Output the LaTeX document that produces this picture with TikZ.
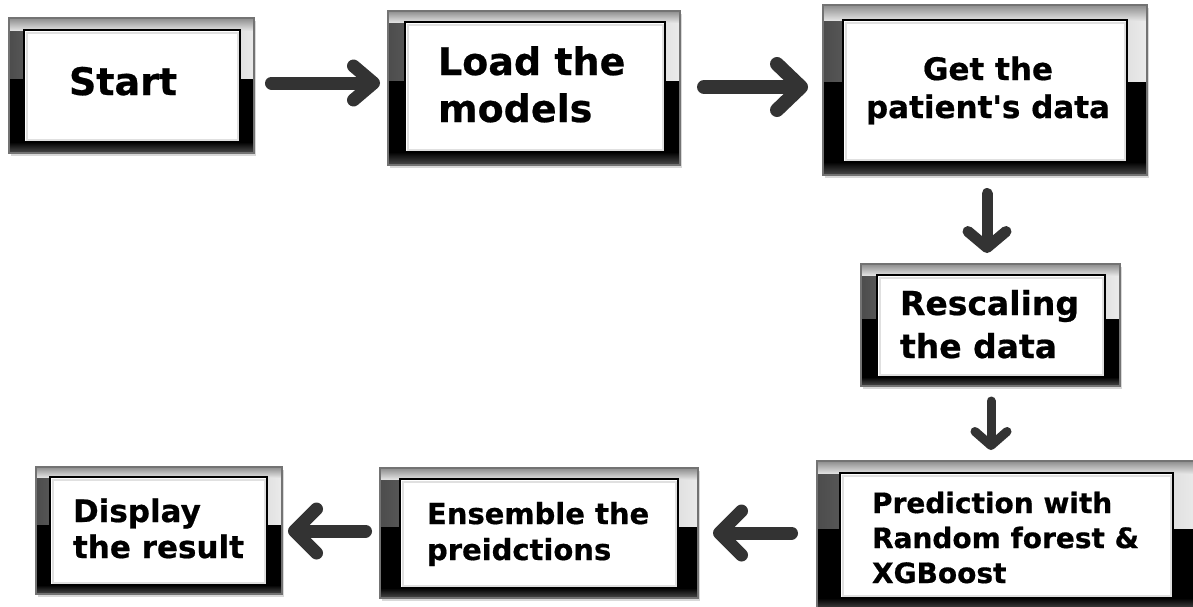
\documentclass[tikz,border=0pt]{standalone}
\usepackage{fontspec}
\setmainfont{DejaVu Sans}[Ligatures=TeXOff, BoldFeatures={FakeBold=0.6}]
\usetikzlibrary{arrows.meta,calc}
\definecolor{arrowgray}{HTML}{333333}
\tikzset{
  framenode/.style={rectangle, fill=black, inner sep=0pt, outer sep=0pt},
  txt/.style={inner sep=0pt, outer sep=0pt, text=black, font=\bfseries},
  conn/.style={draw=arrowgray, line cap=round, line join=round},
}
\newcommand\gframe[9]{%
  \fill[black!25,opacity=0.6] (#2+2,#3+3) rectangle (#4+2,#5+3);
  \node[framenode, minimum width={(#4-#2)*1pt}, minimum height={(#5-#3)*1pt}] (#1) at ({(#2+#4)/2},{(#3+#5)/2}) {};
  \shade[left color=black!70, right color=black!8] (#2,#3) rectangle (#4,{#3+0.45*(#5-#3)});
  \shade[top color=black!45, bottom color=black!12] (#2,#3) rectangle (#4,#7);
  \shade[top color=black, bottom color=black!70] (#2,#9) rectangle (#4,#5);
  \draw[black!55, line width=1.2pt] (#1.north west) rectangle (#1.south east);
  \filldraw[fill=white, draw=black, line width=2.5pt] (#6,#7) rectangle (#8,#9);
  \draw[black!12, line width=2pt] (#6+2.5,#7+2.5) rectangle (#8-2.5,#9-2.5);
}
\begin{document}
\begin{tikzpicture}[x=1pt,y=-1pt]
\useasboundingbox (0,0) rectangle (1193,606);
\fill[white] (0,0) rectangle (1193,606);

\gframe{b1}{9}{18}{254}{153}{24}{30}{240}{142}
\gframe{b2}{388}{11}{680}{165}{405}{22}{665}{152}
\gframe{b3}{823}{5}{1147}{175}{843}{20}{1127}{162}
\gframe{b4}{861}{264}{1120}{386}{877}{275}{1105}{377}
\gframe{b5}{817}{461}{1198}{610}{840}{473}{1173}{598}
\gframe{b6}{36}{467}{282}{594}{50}{477}{267}{585}
\gframe{b7}{380}{468}{698}{598}{400}{479}{678}{588}

\node[txt, font=\fontsize{38}{47}\selectfont\bfseries, anchor=base west] (t1) at (69,95) {Start};
\node[txt, font=\fontsize{38}{47}\selectfont\bfseries, align=left, anchor=base west] (t2) at (438,122) {Load the\\models};
\node[txt, font=\fontsize{31}{38}\selectfont\bfseries, align=center, anchor=base] (t3) at (988,118) {Get the\\patient's data};
\node[txt, font=\fontsize{33}{43}\selectfont\bfseries, align=left, anchor=base west] (t4) at (900,358) {Rescaling\\the data};
\node[txt, font=\fontsize{28}{35}\selectfont\bfseries, align=left, anchor=base west] (t5) at (872,583) {Prediction with\\Random forest \&\\XGBoost};
\node[txt, font=\fontsize{31}{36}\selectfont\bfseries, align=left, anchor=base west] (t6) at (73,558) {Display\\the result};
\node[txt, font=\fontsize{29}{36}\selectfont\bfseries, align=left, anchor=base west] (t7) at (427,560) {Ensemble the\\preidctions};

\draw[conn, line width=13pt, -{Straight Barb[length=20pt,width=34pt,round]}]
  ($(b1.east)+(17.5,-2.5)$) -- ($(b1.east -| b2.west)+(-8,-2.5)$);
\draw[conn, line width=14pt, -{Straight Barb[length=24pt,width=46pt,round]}]
  ($(b2.east)+(24,-1)$) -- ($(b2.east -| b3.west)+(-15,-1)$);
\draw[conn, line width=11pt, -{Straight Barb[length=16pt,width=38pt,round]}]
  ($(b3.south)+(2,18.5)$) -- ($(b3.south |- b4.north)+(2,-11)$);
\draw[conn, line width=9pt, -{Straight Barb[length=14pt,width=32pt,round]}]
  ($(b4.south)+(0.5,15)$) -- ($(b4.south |- b5.north)+(0.5,-11)$);
\draw[conn, line width=13pt, -{Straight Barb[length=22pt,width=44pt,round]}]
  ($(b5.west)+(-25.5,-2.5)$) -- ($(b5.west -| b7.east)+(15,-2.5)$);
\draw[conn, line width=13pt, -{Straight Barb[length=22pt,width=44pt,round]}]
  ($(b7.west)+(-14.5,-2)$) -- ($(b7.west -| b6.east)+(6,-2)$);
\end{tikzpicture}
\end{document}
